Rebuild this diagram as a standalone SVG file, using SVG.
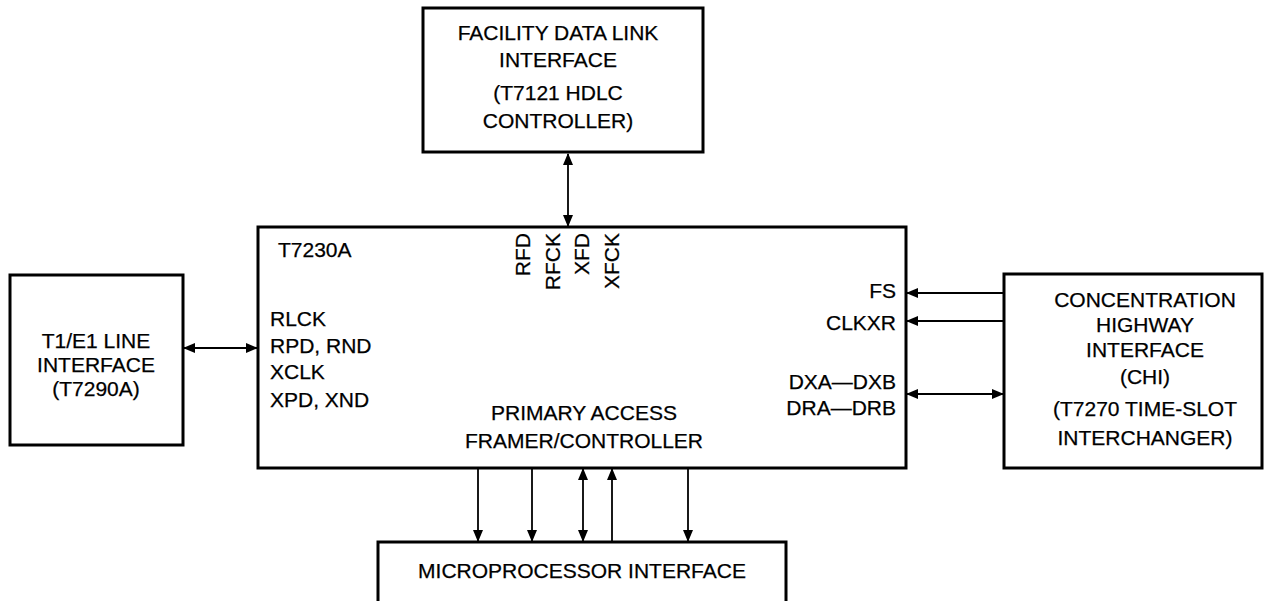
<svg xmlns="http://www.w3.org/2000/svg" width="1264" height="601" viewBox="0 0 1264 601">
<defs>
<style>
.box{fill:#fff;stroke:#000;stroke-width:3}
.t{font-family:"Liberation Sans",Arial,sans-serif;font-size:21px;fill:#000;stroke:#000;stroke-width:0.25}
.c{text-anchor:middle}
.e{text-anchor:end}
.ln{stroke:#000;stroke-width:1.8;fill:none}
</style>
<marker id="ah" viewBox="0 0 12 10" refX="11" refY="5" markerWidth="12" markerHeight="10" markerUnits="userSpaceOnUse" orient="auto-start-reverse">
<path d="M0,0 L12,5 L0,10 Z" fill="#000"/>
</marker>
</defs>
<rect width="1264" height="601" fill="#fff"/>
<g id="connectors">
<line class="ln" x1="568" y1="154" x2="568" y2="226" marker-start="url(#ah)" marker-end="url(#ah)"/>
<line class="ln" x1="184" y1="348" x2="257" y2="348" marker-start="url(#ah)" marker-end="url(#ah)"/>
<line class="ln" x1="1004" y1="293" x2="907" y2="293" marker-end="url(#ah)"/>
<line class="ln" x1="1004" y1="321" x2="907" y2="321" marker-end="url(#ah)"/>
<line class="ln" x1="907" y1="394" x2="1003" y2="394" marker-start="url(#ah)" marker-end="url(#ah)"/>
<line class="ln" x1="478" y1="469" x2="478" y2="541" marker-end="url(#ah)"/>
<line class="ln" x1="532" y1="469" x2="532" y2="541" marker-end="url(#ah)"/>
<line class="ln" x1="583" y1="469" x2="583" y2="541" marker-start="url(#ah)" marker-end="url(#ah)"/>
<line class="ln" x1="612" y1="541" x2="612" y2="469" marker-end="url(#ah)"/>
<line class="ln" x1="688" y1="469" x2="688" y2="541" marker-end="url(#ah)"/>
</g>
<g id="fdl">
<rect class="box" x="423" y="8" width="280" height="144"/>
<text class="t c" x="558" y="40">FACILITY DATA LINK</text>
<text class="t c" x="558" y="67">INTERFACE</text>
<text class="t c" x="558" y="100">(T7121 HDLC</text>
<text class="t c" x="558" y="128">CONTROLLER)</text>
</g>
<g id="line-if">
<rect class="box" x="10" y="275" width="173" height="170"/>
<text class="t c" x="96" y="348">T1/E1 LINE</text>
<text class="t c" x="96" y="372">INTERFACE</text>
<text class="t c" x="96" y="396">(T7290A)</text>
</g>
<g id="framer">
<rect class="box" x="258" y="227" width="648" height="241"/>
<text class="t" x="278" y="257">T7230A</text>
<text class="t e" transform="translate(530,233) rotate(-90)">RFD</text>
<text class="t e" transform="translate(560,233) rotate(-90)">RFCK</text>
<text class="t e" transform="translate(589,233) rotate(-90)">XFD</text>
<text class="t e" transform="translate(619,233) rotate(-90)">XFCK</text>
<text class="t" x="270" y="326">RLCK</text>
<text class="t" x="270" y="353">RPD, RND</text>
<text class="t" x="270" y="379">XCLK</text>
<text class="t" x="270" y="407">XPD, XND</text>
<text class="t e" x="896" y="298">FS</text>
<text class="t e" x="896" y="330">CLKXR</text>
<text class="t e" x="896" y="389">DXA—DXB</text>
<text class="t e" x="896" y="415">DRA—DRB</text>
<text class="t c" x="584" y="420">PRIMARY ACCESS</text>
<text class="t c" x="584" y="448">FRAMER/CONTROLLER</text>
</g>
<g id="chi">
<rect class="box" x="1004" y="274" width="258" height="194"/>
<text class="t c" x="1145" y="307">CONCENTRATION</text>
<text class="t c" x="1145" y="332">HIGHWAY</text>
<text class="t c" x="1145" y="357">INTERFACE</text>
<text class="t c" x="1145" y="384">(CHI)</text>
<text class="t c" x="1145" y="416">(T7270 TIME-SLOT</text>
<text class="t c" x="1145" y="445">INTERCHANGER)</text>
</g>
<g id="mpu">
<rect class="box" x="378" y="542" width="408" height="62"/>
<text class="t c" x="582" y="578">MICROPROCESSOR INTERFACE</text>
</g>
</svg>
